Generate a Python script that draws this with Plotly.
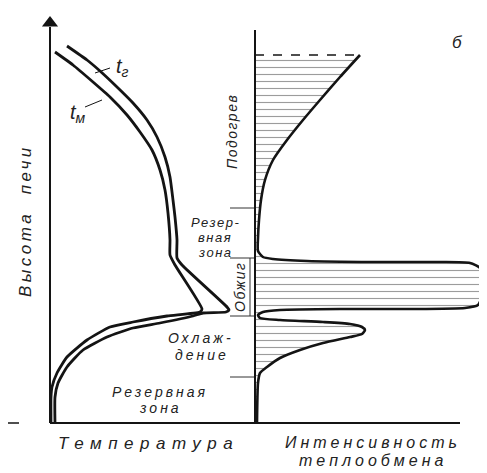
import plotly.graph_objects as go

# Temperature profiles along the kiln height (arbitrary units, origin at axes corner)
gas_temp = [17, 37, 50, 67, 83, 97, 107, 115, 120, 123, 125, 127, 127, 132, 177, 179, 176, 153, 143, 110, 83, 57, 33, 17, 8, 5, 5]
gas_height = [377, 363, 352, 336, 320, 303, 286, 266, 246, 223, 206, 183, 165, 158, 116, 113, 111, 110, 107, 100, 95, 86, 73, 56, 40, 26, 0]

mat_temp = [5, 23, 43, 60, 77, 90, 102, 110, 115, 118, 120, 120, 125, 152, 150, 117, 83, 60, 37, 17, 7, 2, 1, 1]
mat_height = [371, 358, 341, 326, 308, 291, 273, 253, 233, 210, 183, 168, 158, 114, 111, 107, 101, 96, 83, 66, 50, 36, 26, 0]

# Heat-exchange intensity along the same height
heat_rate = [105, 85, 65, 48, 32, 18, 10, 6, 4, 3, 3, 8, 18, 52, 118, 185, 215, 225, 228, 227, 223, 210,
             152, 85, 25, 8, 3, 5, 25, 68, 95, 107, 110, 107, 95, 68, 45, 25, 12, 5, 3, 2]
heat_height = [368, 346, 323, 303, 283, 263, 243, 223, 203, 185, 172, 166, 164, 162, 161, 161, 160, 155, 143, 128, 118, 115,
               114, 114, 113, 111, 108, 105, 103, 101, 99, 96, 93, 89, 86, 80, 73, 65, 56, 50, 40, 0]

# Zone boundaries (heights)
zone_bounds = [215, 165, 107, 46]

INK = "#141414"
FONT = "Liberation Sans"

fig = go.Figure()

# hatched intensity area
fig.add_trace(go.Scatter(
    x=heat_rate, y=heat_height, xaxis="x2", mode="lines",
    line=dict(color=INK, width=2.6, shape="spline", smoothing=0.6),
    fill="tozerox", fillcolor="white",
    fillpattern=dict(shape="-", fgcolor="#3a3a3a", bgcolor="white", size=7, solidity=0.16),
    hoverinfo="skip",
))
fig.add_trace(go.Scatter(
    x=[0, heat_rate[0]], y=[heat_height[0]] * 2, xaxis="x2", mode="lines",
    line=dict(color=INK, width=1.5, dash="dash"), hoverinfo="skip",
))

# temperature curves
for t, h in [(gas_temp, gas_height), (mat_temp, mat_height)]:
    fig.add_trace(go.Scatter(
        x=t, y=h, mode="lines",
        line=dict(color=INK, width=2.8, shape="spline", smoothing=0.5),
        hoverinfo="skip",
    ))

# zone boundary ticks next to the intensity axis
for zb in zone_bounds:
    fig.add_trace(go.Scatter(x=[-25, 0], y=[zb, zb], xaxis="x2", mode="lines",
                             line=dict(color="#333", width=1), hoverinfo="skip"))
fig.add_trace(go.Scatter(x=[-5, -5], y=[zone_bounds[1], zone_bounds[2]], xaxis="x2", mode="lines",
                         line=dict(color="#333", width=1), hoverinfo="skip"))

# axes
fig.add_trace(go.Scatter(x=[0, 0], y=[0, 396], mode="lines", line=dict(color=INK, width=2), hoverinfo="skip"))
fig.add_trace(go.Scatter(x=[0], y=[400], mode="markers", hoverinfo="skip", cliponaxis=False,
                         marker=dict(symbol="triangle-up", size=14, color=INK, line=dict(width=0))))
fig.add_trace(go.Scatter(x=[0, 0], y=[0, 393], xaxis="x2", mode="lines", line=dict(color=INK, width=2), hoverinfo="skip"))
fig.add_trace(go.Scatter(x=[0, 410], y=[0, 0], mode="lines", line=dict(color=INK, width=2), hoverinfo="skip"))
fig.add_trace(go.Scatter(x=[-42, -31], y=[0, 0], mode="lines", line=dict(color=INK, width=1.5), hoverinfo="skip"))

# leader lines for curve labels
fig.add_trace(go.Scatter(x=[45, 60], y=[350, 355], mode="lines", line=dict(color=INK, width=1), hoverinfo="skip"))
fig.add_trace(go.Scatter(x=[35, 52], y=[316, 323], mode="lines", line=dict(color=INK, width=1), hoverinfo="skip"))


def label(text, x, y, size=14, angle=0, xref="x", spacing=1):
    fig.add_annotation(
        x=x, y=y, xref=xref, yref="y", showarrow=False, textangle=angle,
        text=f"<i><span style='letter-spacing:{spacing}px'>{text}</span></i>",
        font=dict(family=FONT, size=size, color="#222"),
    )


label("Высота  печи", -25, 202, size=17, angle=-90, spacing=3.5)
label("Температура", 98, -20, size=17, spacing=6.5)
label("Интенсивность", 118, -19, xref="x2", size=16, spacing=4)
label("теплообмена", 118, -37, xref="x2", size=16, spacing=4)
label("Подогрев", 182, 291, size=14, angle=-90, spacing=1.5)
label("Резер-", 165, 201, size=13, spacing=1.5)
label("вная", 165, 186, size=13, spacing=1.5)
label("зона", 165, 171, size=13, spacing=1.5)
label("Обжиг", 190, 136, size=14, angle=-90, spacing=1.5)
label("Охлаж-", 151, 85, size=14, spacing=3)
label("дение", 152, 68, size=14, spacing=3)
label("Резервная", 110, 31, size=14, spacing=3)
label("зона", 110, 15, size=14, spacing=3)
label("б", 407, 381, size=17)
fig.add_annotation(x=72, y=356, xref="x", yref="y", showarrow=False,
                   text="<i>t<sub>г</sub></i>", font=dict(family=FONT, size=20, color="#222"))
fig.add_annotation(x=28, y=310, xref="x", yref="y", showarrow=False,
                   text="<i>t<sub>м</sub></i>", font=dict(family=FONT, size=20, color="#222"))

# page body keeps its default 8px margin, so the figure is shrunk by that amount
fig.update_layout(
    width=479, height=465,
    margin=dict(l=0, r=0, t=0, b=0),
    showlegend=False,
    paper_bgcolor="white", plot_bgcolor="white",
    xaxis=dict(range=[-42, 437], visible=False),
    xaxis2=dict(range=[-247, 232], visible=False, overlaying="x"),
    yaxis=dict(range=[-50, 415], visible=False),
)

fig.write_html("out.html")
